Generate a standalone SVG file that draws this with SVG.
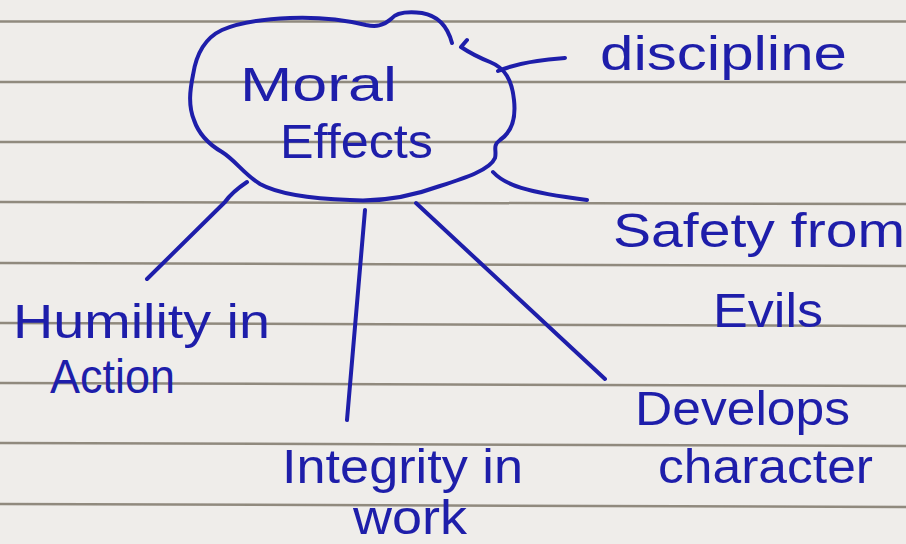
<svg xmlns="http://www.w3.org/2000/svg" width="906" height="544" viewBox="0 0 906 544">
<style>
.rule{stroke:#7f786b;stroke-width:2.5;fill:none;opacity:0.85}
.ink{stroke:#1e1eaa;stroke-width:4;fill:none;stroke-linecap:round;stroke-linejoin:round}
.t{font-family:"Liberation Sans","Noto Sans",sans-serif;font-size:48px;fill:#1e1eaa}
</style>
<rect x="0" y="0" width="906" height="544" fill="#efedea"/>
<g id="paper-lines">
<path class="rule" d="M0,21.5 L906,21.5"/>
<path class="rule" d="M0,82 L906,82"/>
<path class="rule" d="M0,142 L906,142"/>
<path class="rule" d="M0,202 L906,204"/>
<path class="rule" d="M0,263 L906,266"/>
<path class="rule" d="M0,323 L906,326"/>
<path class="rule" d="M0,383 L906,386"/>
<path class="rule" d="M0,443 L906,446"/>
<path class="rule" d="M0,504 L906,507"/>
</g>
<g id="connectors">
<path class="ink" d="M498,71 C515,64 535,60 565,58"/>
<path class="ink" d="M493,172 C505,185 525,192 587,200"/>
<path class="ink" d="M247,182 Q232,192 225,202 L147,279"/>
<path class="ink" d="M365,210 L347,420"/>
<path class="ink" d="M416,203 L605,379"/>
</g>
<g id="moral-effects">
<path class="ink" d="M452,43 C448,28 440,16 422,13 C405,11 395,14 391,19 C383,26 376,27 366,25 C345,20 315,17 290,18 C265,19 240,22 222,30 C205,38 196,55 193,75 C190,90 188,105 194,120 C199,135 210,145 222,152 C235,160 245,175 260,184 C280,195 320,199 350,200 C380,202 410,197 440,186 C465,178 490,170 495,158 C497,150 492,146 500,140 C512,132 516,118 514,100 C512,80 505,68 490,62 C480,58 470,53 461,47 L467,40"/>
<text class="t" x="240" y="101" textLength="157" lengthAdjust="spacingAndGlyphs">Moral</text>
<text class="t" x="280" y="158" textLength="153" lengthAdjust="spacingAndGlyphs">Effects</text>
</g>
<g id="discipline">
<text class="t" x="600" y="70" textLength="247" lengthAdjust="spacingAndGlyphs">discipline</text>
</g>
<g id="safety">
<text class="t" x="613" y="247" textLength="292" lengthAdjust="spacingAndGlyphs">Safety from</text>
<text class="t" x="713" y="327" textLength="110" lengthAdjust="spacingAndGlyphs">Evils</text>
</g>
<g id="develops">
<text class="t" x="635" y="425" textLength="215" lengthAdjust="spacingAndGlyphs">Develops</text>
<text class="t" x="658" y="483" textLength="215" lengthAdjust="spacingAndGlyphs">character</text>
</g>
<g id="humility">
<text class="t" x="13" y="338" textLength="257" lengthAdjust="spacingAndGlyphs">Humility in</text>
<text class="t" x="50" y="393" textLength="125" lengthAdjust="spacingAndGlyphs">Action</text>
</g>
<g id="integrity">
<text class="t" x="282" y="483" textLength="241" lengthAdjust="spacingAndGlyphs">Integrity in</text>
<text class="t" x="353" y="534" font-size="40" textLength="114" lengthAdjust="spacingAndGlyphs">work</text>
</g>
</svg>
